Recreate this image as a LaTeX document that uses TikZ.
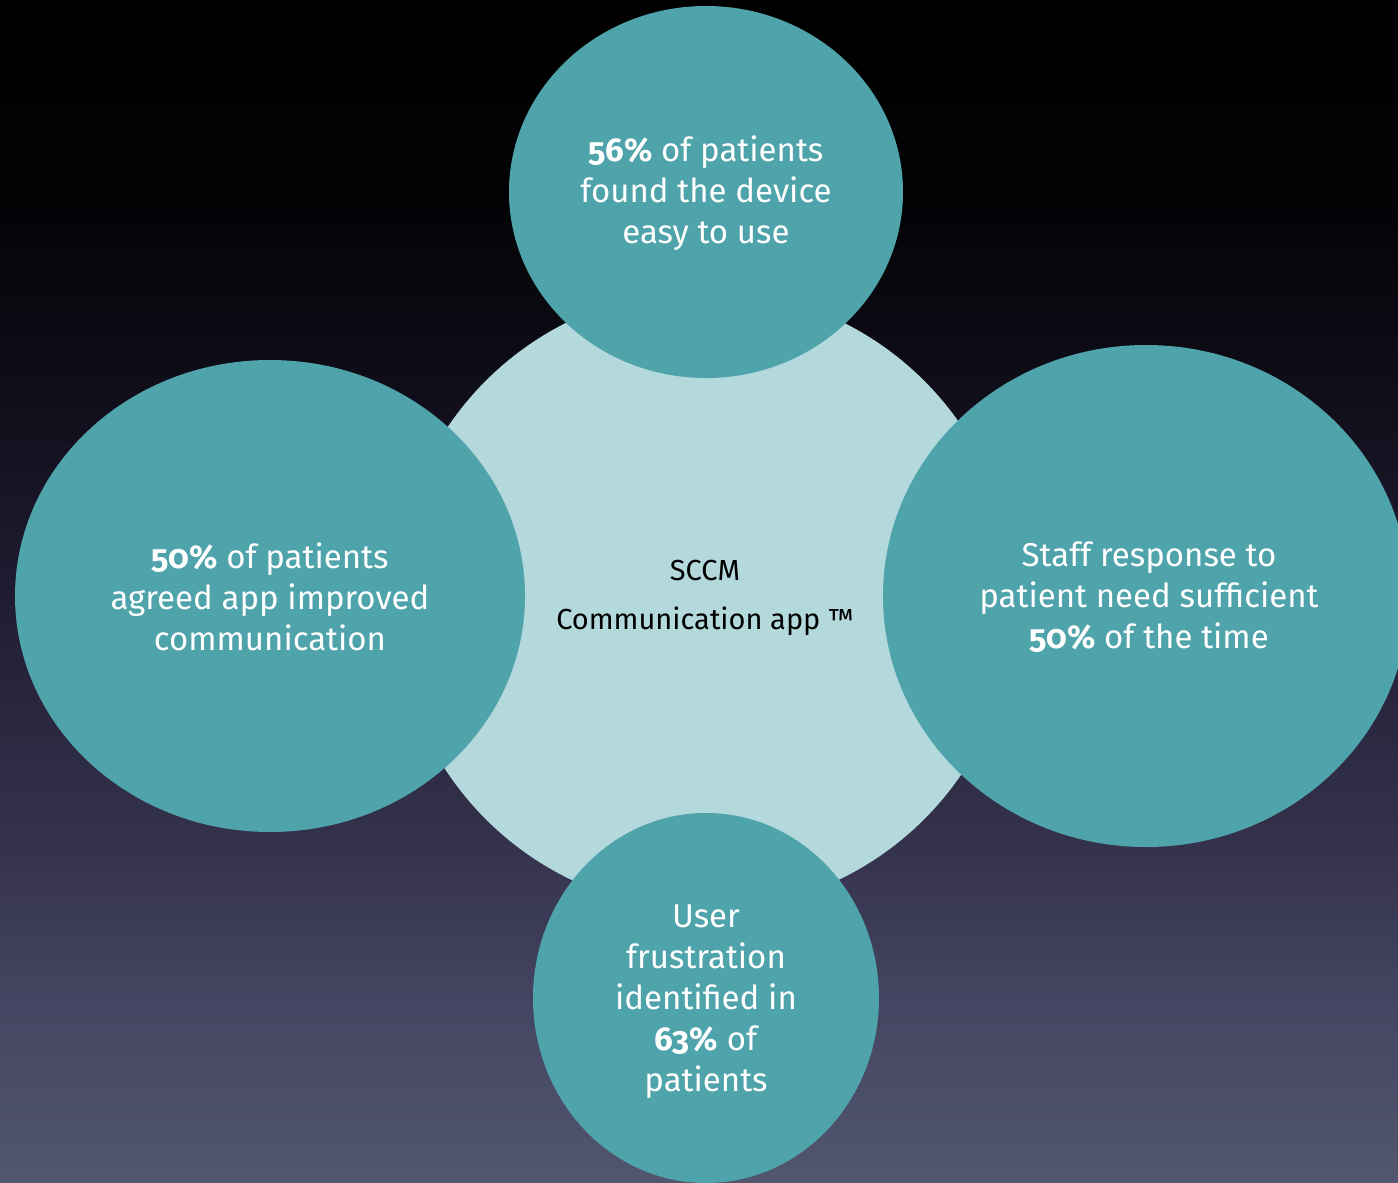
\documentclass[tikz,border=0pt]{standalone}
\usepackage{fontspec}
\setmainfont{Fira Sans}[Numbers=OldStyle]
\usetikzlibrary{shapes.geometric}
\definecolor{tealc}{HTML}{4FA3AA}
\definecolor{palec}{HTML}{B3D9DC}
\definecolor{bgA}{HTML}{52566E}
\definecolor{bgB}{HTML}{444562}
\definecolor{bgC}{HTML}{35324D}
\definecolor{bgD}{HTML}{201D33}
\definecolor{bgE}{HTML}{100E1A}
\definecolor{bgF}{HTML}{030306}
\definecolor{bgG}{HTML}{000000}
\pgfdeclareverticalshading{bgshade}{100bp}{color(0bp)=(bgA); color(25bp)=(bgA); color(32.7bp)=(bgB); color(39.1bp)=(bgC); color(49.6bp)=(bgD); color(58.1bp)=(bgE); color(66.5bp)=(bgF); color(75bp)=(bgG); color(100bp)=(bgG)}
\tikzset{
  blob/.style={ellipse, fill=tealc, inner sep=0pt},
  hub/.style={ellipse, fill=palec, inner sep=0pt},
  lbl/.style={text=white, align=center, inner sep=0pt, font=\fontsize{33}{41}\selectfont},
  hublbl/.style={text=black, align=center, inner sep=0pt, font=\fontsize{29}{49}\selectfont}
}
\begin{document}
\begin{tikzpicture}[x=1pt,y=-1pt]
\useasboundingbox (0,0) rectangle (1398,1183);
\clip (0,0) rectangle (1398,1183);
\shade[shading=bgshade] (0,0) rectangle (1398,1183);
\node[hub, minimum width=620, minimum height=620] (hub) at (705,600) {};
\node[blob, minimum width=394, minimum height=372] (top) at (706,192) {};
\node[blob, minimum width=510, minimum height=472] (left) at (270,596) {};
\node[blob, minimum width=526, minimum height=502] (right) at (1146,596) {};
\node[blob, minimum width=346, minimum height=370] (bottom) at (706,998) {};
\node[hublbl] (hubtext) at (705,598) {SCCM\\Communication app ™};
\node[lbl] (toptext) at (706,193) {\textbf{56\%} of patients\\found the device\\easy to use};
\node[lbl] (lefttext) at (270,597) {\textbf{50\%} of patients\\agreed app improved\\communication};
\node[lbl] (righttext) at (1149,597) {Staff response to\\patient need sufficient\\\textbf{50\%} of the time};
\node[lbl] (bottomtext) at (706,1002) {User\\frustration\\identified in\\\textbf{63\%} of\\patients};
\end{tikzpicture}
\end{document}
